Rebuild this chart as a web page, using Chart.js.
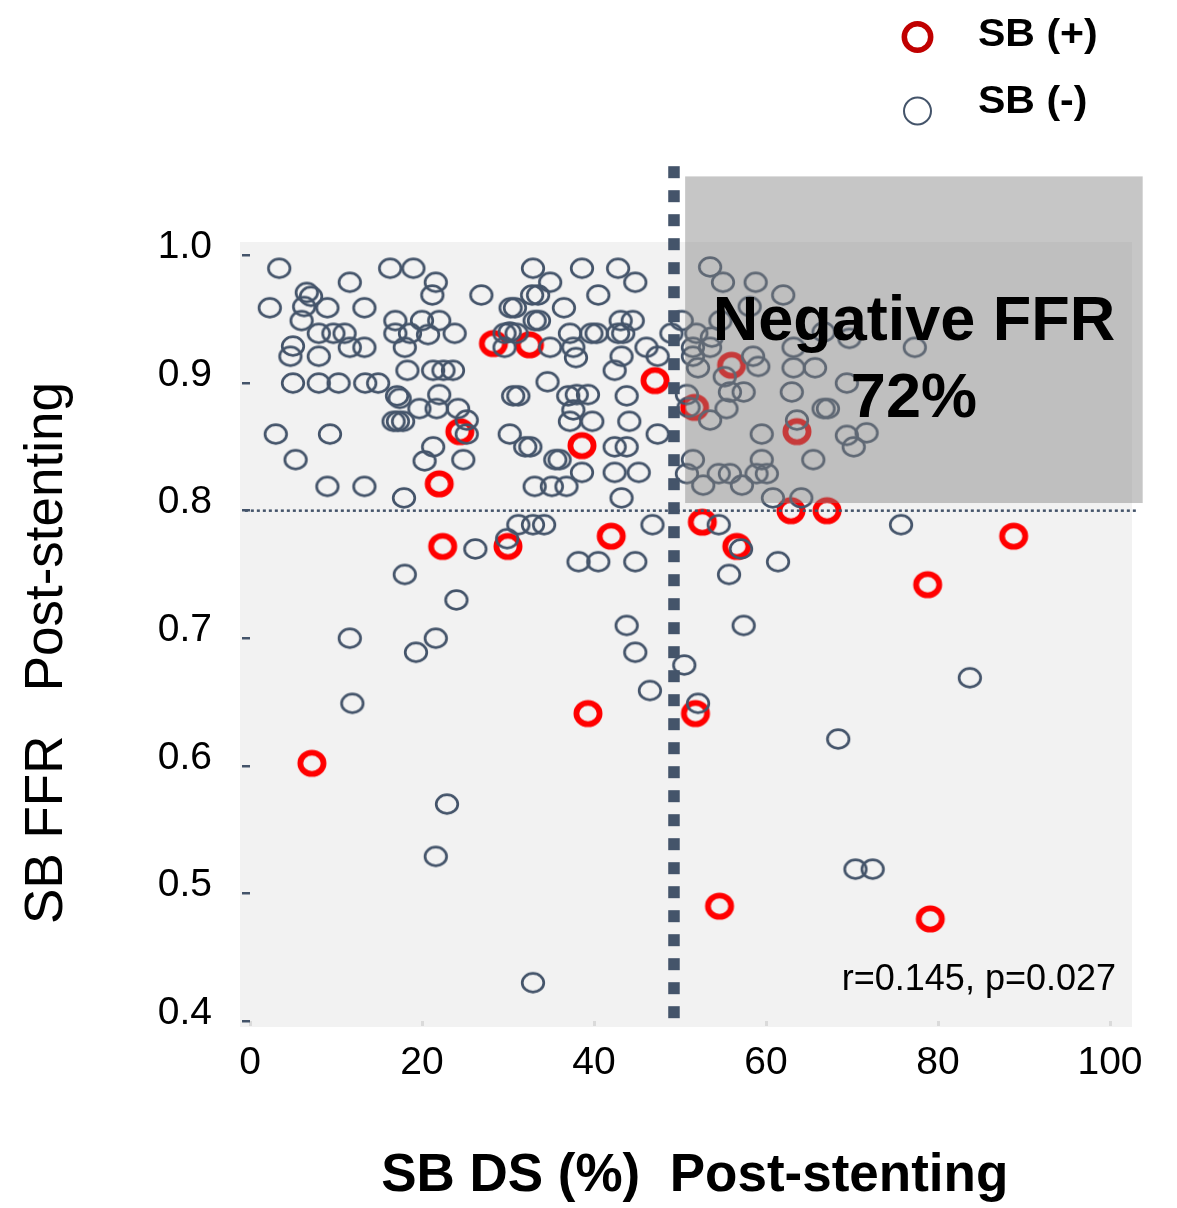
<!DOCTYPE html>
<html>
<head>
<meta charset="utf-8">
<script src="https://cdn.jsdelivr.net/npm/chart.js@4.4.0/dist/chart.umd.min.js"></script>
<style>
  html, body { margin: 0; padding: 0; background: #ffffff; }
  canvas { display: block; }
</style>
</head>
<body>
<canvas id="ffrChart" width="1177" height="1208"></canvas>
<script>
// SB (-) : side branch DS (%) and FFR after stenting
const negDS = [
  3.4, 16.3, 19.0, 21.6, 11.6, 21.2, 6.6, 7.1, 2.3, 6.3, 9.0, 13.3, 6.0, 16.9, 20.0, 22.0,
  8.0, 9.7, 11.0, 16.9, 18.6, 20.7, 23.8, 5.0, 11.6, 13.3, 18.0, 4.7, 8.0, 18.3, 21.3, 22.5,
  23.6, 5.0, 8.0, 10.3, 13.4, 14.9, 17.1, 17.4, 22.0, 19.7, 21.7, 24.2, 16.7, 17.2, 17.8, 3.0,
  9.3, 21.3, 5.3, 20.3, 24.8, 9.0, 13.3, 17.9, 32.9, 38.6, 42.8, 34.9, 44.8, 26.9, 32.8, 33.5,
  40.5, 30.3, 30.8, 36.5, 33.1, 33.6, 43.1, 44.5, 29.6, 30.2, 31.0, 29.6, 34.9, 37.2, 37.6, 37.9,
  39.7, 40.3, 42.8, 43.4, 43.2, 42.4, 46.1, 34.6, 30.6, 31.2, 37.0, 38.0, 39.3, 43.8, 25.2, 37.6,
  37.2, 39.8, 44.1, 25.2, 30.2, 32.0, 32.6, 42.4, 43.8, 47.4, 35.5, 36.0, 38.6, 42.4, 45.2, 33.1,
  35.1, 36.8, 43.2, 53.5, 55.0, 58.8, 62.0, 50.2, 49.0, 51.9, 53.7, 54.7, 58.1, 47.4, 51.5, 53.5,
  51.5, 52.1, 55.2, 58.5, 59.1, 63.2, 65.7, 63.2, 66.7, 69.4, 50.8, 51.0, 53.5, 55.4, 55.8, 57.4,
  63.0, 66.7, 67.2, 63.6, 69.4, 70.2, 59.5, 51.5, 50.8, 52.7, 54.5, 55.8, 57.2, 58.9, 59.5, 60.1,
  65.5, 60.8, 64.1, 77.3, 71.7, 69.7, 31.2, 32.9, 34.2, 46.8, 26.2, 29.9, 38.2, 40.5, 44.8, 18.0,
  24.0, 43.8, 11.6, 21.6, 19.3, 44.8, 50.5, 46.5, 11.9, 52.1, 22.9, 21.6, 32.9, 54.5, 75.7, 57.1,
  61.4, 55.7, 57.4, 83.7, 68.4, 70.4, 72.4
];
const negFFR = [
  0.990, 0.990, 0.990, 0.979, 0.979, 0.969, 0.971, 0.968, 0.959, 0.960, 0.959, 0.959, 0.949, 0.949, 0.949, 0.949,
  0.939, 0.939, 0.939, 0.939, 0.939, 0.938, 0.939, 0.929, 0.928, 0.928, 0.928, 0.921, 0.921, 0.910, 0.910, 0.910,
  0.910, 0.900, 0.900, 0.900, 0.900, 0.900, 0.890, 0.888, 0.891, 0.880, 0.880, 0.880, 0.870, 0.870, 0.870, 0.860,
  0.860, 0.850, 0.840, 0.839, 0.840, 0.819, 0.819, 0.810, 0.990, 0.990, 0.990, 0.979, 0.979, 0.969, 0.969, 0.969,
  0.969, 0.959, 0.959, 0.959, 0.949, 0.949, 0.949, 0.949, 0.939, 0.940, 0.939, 0.928, 0.928, 0.939, 0.928, 0.920,
  0.939, 0.939, 0.939, 0.939, 0.921, 0.910, 0.928, 0.901, 0.890, 0.890, 0.890, 0.891, 0.891, 0.890, 0.871, 0.879,
  0.870, 0.870, 0.870, 0.860, 0.860, 0.850, 0.850, 0.850, 0.850, 0.860, 0.840, 0.840, 0.830, 0.830, 0.830, 0.819,
  0.819, 0.819, 0.810, 0.991, 0.979, 0.979, 0.969, 0.949, 0.939, 0.939, 0.936, 0.949, 0.960, 0.921, 0.928, 0.928,
  0.921, 0.912, 0.905, 0.921, 0.913, 0.912, 0.912, 0.928, 0.940, 0.900, 0.891, 0.881, 0.871, 0.880, 0.893, 0.893,
  0.893, 0.880, 0.880, 0.871, 0.859, 0.850, 0.860, 0.840, 0.829, 0.820, 0.829, 0.829, 0.820, 0.829, 0.840, 0.829,
  0.840, 0.810, 0.810, 0.928, 0.861, 0.935, 0.789, 0.789, 0.789, 0.789, 0.770, 0.778, 0.760, 0.760, 0.760, 0.750,
  0.730, 0.710, 0.700, 0.700, 0.689, 0.689, 0.679, 0.659, 0.649, 0.649, 0.570, 0.529, 0.430, 0.789, 0.789, 0.770,
  0.760, 0.750, 0.710, 0.669, 0.621, 0.519, 0.519
];

// SB (+)
const posDS = [28.3, 32.5, 47.1, 24.4, 22.0, 38.6, 56.0, 51.7, 63.6, 62.9, 67.1, 52.6,
  42.0, 22.4, 30.0, 56.6, 88.8, 78.8, 39.3, 51.8, 7.2, 54.6, 79.1];
const posFFR = [0.931, 0.930, 0.902, 0.862, 0.821, 0.851, 0.914, 0.881, 0.862, 0.800, 0.800, 0.791,
  0.780, 0.772, 0.772, 0.772, 0.780, 0.742, 0.641, 0.641, 0.602, 0.490, 0.480];

const xTicks = [0, 20, 40, 60, 80, 100];
const yTicks = [0.4, 0.5, 0.6, 0.7, 0.8, 0.9, 1.0];

// cut-offs and the shaded "negative FFR" region
const dsCut = 49.3;
const ffrCut = 0.8;
const negRegion = { xMin: 50.6, xMax: 103.8, yMin: 0.806, yMax: 1.062 };
const statText = 'r=0.145, p=0.027';

const FONT = "'Liberation Sans', Arial, Helvetica, sans-serif";
const SLATE = '#44546a';

// open ellipse markers
function ringImage(w, h, rx, ry, lw, color) {
  const c = document.createElement('canvas');
  c.width = w;
  c.height = h;
  const g = c.getContext('2d');
  g.strokeStyle = color;
  g.lineWidth = lw;
  g.beginPath();
  g.ellipse(w / 2, h / 2, rx, ry, 0, 0, Math.PI * 2);
  g.stroke();
  return c;
}
const greyRing = ringImage(28, 24, 10.8, 9.3, 2.7, SLATE);
const redRing = ringImage(32, 30, 11.6, 10.6, 5.8, '#ff0000');

const toPoints = (xs, ys) => xs.map((x, i) => ({ x, y: ys[i] }));

const decor = {
  id: 'decor',
  beforeDraw(chart) {
    const { ctx, chartArea: a } = chart;
    ctx.save();
    ctx.fillStyle = '#ffffff';
    ctx.fillRect(0, 0, chart.width, chart.height);
    ctx.fillStyle = '#f2f2f2';
    ctx.fillRect(a.left - 10, a.top - 13.5, a.right - a.left + 32, a.bottom - a.top + 19.5);
    ctx.restore();
  },
  afterDatasetsDraw(chart) {
    const { ctx } = chart;
    const xs = chart.scales.x, ys = chart.scales.y;

    ctx.save();
    // shaded region drawn over the points
    const bx0 = xs.getPixelForValue(negRegion.xMin), bx1 = xs.getPixelForValue(negRegion.xMax);
    const by0 = ys.getPixelForValue(negRegion.yMax), by1 = ys.getPixelForValue(negRegion.yMin);
    ctx.fillStyle = 'rgba(128,128,128,0.45)';
    ctx.fillRect(bx0, by0, bx1 - bx0, by1 - by0);

    // vertical DS cut-off
    const vx = xs.getPixelForValue(dsCut);
    ctx.strokeStyle = SLATE;
    ctx.lineWidth = 11.5;
    ctx.setLineDash([12, 12]);
    ctx.beginPath();
    ctx.moveTo(vx, ys.getPixelForValue(1.07));
    ctx.lineTo(vx, ys.getPixelForValue(0.402));
    ctx.stroke();

    // horizontal FFR cut-off
    const hy = ys.getPixelForValue(ffrCut);
    ctx.lineWidth = 2.5;
    ctx.setLineDash([3, 3]);
    ctx.beginPath();
    ctx.moveTo(xs.getPixelForValue(-0.6), hy);
    ctx.lineTo(xs.getPixelForValue(103.3), hy);
    ctx.stroke();
    ctx.setLineDash([]);

    // region label
    ctx.fillStyle = '#000000';
    ctx.textAlign = 'center';
    ctx.textBaseline = 'alphabetic';
    ctx.font = 'bold 63px ' + FONT;
    const bc = (bx0 + bx1) / 2;
    ctx.fillText('Negative FFR', bc, by0 + 164);
    ctx.fillText('72%', bc, by0 + 241);

    // correlation
    ctx.textAlign = 'right';
    ctx.font = '36px ' + FONT;
    ctx.fillText(statText, xs.getPixelForValue(100.7), ys.getPixelForValue(0.424));

    // legend
    const items = [
      { label: chart.data.datasets[1].label, cy: 37, r: 13.2, lw: 5.5, color: '#c00000', base: 46 },
      { label: chart.data.datasets[0].label, cy: 111, r: 13.5, lw: 2, color: SLATE, base: 113 }
    ];
    items.forEach(it => {
      ctx.strokeStyle = it.color;
      ctx.lineWidth = it.lw;
      ctx.beginPath();
      ctx.arc(917.5, it.cy, it.r, 0, Math.PI * 2);
      ctx.stroke();
      ctx.save();
      ctx.translate(978, it.base);
      ctx.scale(1.08, 1);
      ctx.textAlign = 'left';
      ctx.fillStyle = '#000000';
      ctx.font = 'bold 38px ' + FONT;
      ctx.fillText(it.label, 0, 0);
      ctx.restore();
    });
    ctx.restore();
  }
};

new Chart(document.getElementById('ffrChart').getContext('2d'), {
  type: 'scatter',
  data: {
    datasets: [
      {
        label: 'SB (-)',
        data: toPoints(negDS, negFFR),
        pointStyle: greyRing,
        clip: false
      },
      {
        label: 'SB (+)',
        data: toPoints(posDS, posFFR),
        pointStyle: redRing,
        clip: false
      }
    ]
  },
  options: {
    responsive: false,
    animation: false,
    events: [],
    layout: { padding: { top: 255.5, right: 67, bottom: 0, left: 0 } },
    scales: {
      x: {
        type: 'linear',
        min: 0,
        max: 100,
        afterBuildTicks: s => { s.ticks = xTicks.map(v => ({ value: v })); },
        afterFit: s => { s.height = 187; },
        border: { display: false },
        grid: { drawOnChartArea: false, drawTicks: true, tickLength: 5, color: '#dadada', lineWidth: 3 },
        ticks: {
          color: '#000000',
          font: { family: FONT, size: 39 },
          padding: 14,
          maxRotation: 0,
          autoSkip: false
        },
        title: {
          display: true,
          text: '  SB DS (%)  Post-stenting',
          color: '#000000',
          font: { family: FONT, size: 53, weight: 'bold' },
          padding: { top: 0, bottom: 0 }
        }
      },
      y: {
        type: 'linear',
        min: 0.4,
        max: 1.0,
        afterBuildTicks: s => { s.ticks = yTicks.map(v => ({ value: v })); },
        afterFit: s => { s.width = 250; },
        border: { display: false },
        grid: { drawOnChartArea: false, drawTicks: true, tickLength: 8, color: SLATE, lineWidth: 2.5 },
        ticks: {
          color: '#000000',
          font: { family: FONT, size: 39 },
          padding: 30,
          labelOffset: -8,
          callback: v => Number(v).toFixed(1)
        },
        title: {
          display: true,
          text: 'SB FFR   Post-stenting  ',
          color: '#000000',
          font: { family: FONT, size: 53 },
          padding: { top: 16 }
        }
      }
    },
    plugins: {
      legend: { display: false },
      tooltip: { enabled: false }
    }
  },
  plugins: [decor]
});
</script>
</body>
</html>
